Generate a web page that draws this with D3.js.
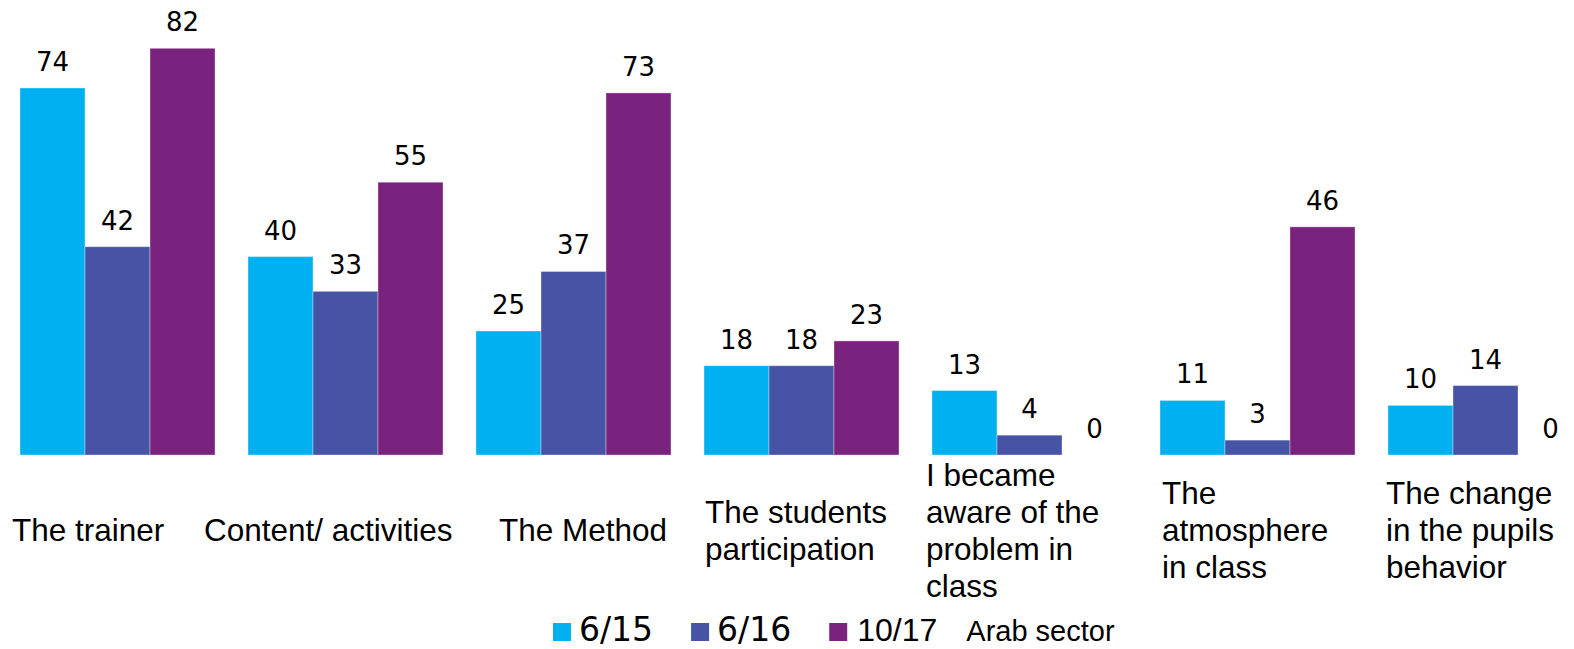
<!DOCTYPE html>
<html>
<head>
<meta charset="utf-8">
<script src="https://cdn.jsdelivr.net/npm/d3@7"></script>
<style>
  html, body { margin: 0; padding: 0; background: #fff; }
  svg { display: block; }
</style>
</head>
<body>
<svg id="chart" width="1574" height="649"></svg>
<script>
// ---- data ----
const categories = [
  ["The trainer"],
  ["Content/ activities"],
  ["The Method"],
  ["The students", "participation"],
  ["I became", "aware of the", "problem in", "class"],
  ["The", "atmosphere", "in class"],
  ["The change", "in the pupils", "behavior"]
];
const seriesNames = ["6/15", "6/16", "10/17"];
const s615  = [74, 40, 25, 18, 13, 11, 10];
const s616  = [42, 33, 37, 18, 4, 3, 14];
const s1017 = [82, 55, 73, 23, 0, 46, 0];
const legendNote = "Arab sector";

// ---- layout / style ----
const colors = ["#00B0F0", "#4753A5", "#79227E"];
const labelDx = [-8, -44, 23, 1, -6, 2, -2]; // left offset of category text from band start
const series = [s615, s616, s1017];

const svg = d3.select("#chart");

const x0 = d3.scaleBand()
  .domain(d3.range(categories.length))
  .range([20, 1583])
  .paddingInner(0.1447)
  .paddingOuter(0);

const x1 = d3.scaleBand()
  .domain(d3.range(series.length))
  .range([0, x0.bandwidth()])
  .padding(0);

const y = d3.scaleLinear().domain([0, 82]).range([455, 48.3]);

const groups = svg.selectAll("g.grp")
  .data(categories.map((c, i) => i))
  .join("g")
  .attr("class", "grp")
  .attr("transform", i => `translate(${x0(i)},0)`);

groups.selectAll("rect")
  .data(i => series.map((s, k) => ({k, v: s[i]})))
  .join("rect")
  .attr("x", d => x1(d.k))
  .attr("width", x1.bandwidth())
  .attr("y", d => y(d.v))
  .attr("height", d => y(0) - y(d.v))
  .attr("fill", d => colors[d.k])
  .attr("stroke", "rgba(255,255,255,0.35)")
  .attr("stroke-width", 1);

groups.selectAll("text.val")
  .data(i => series.map((s, k) => ({k, v: s[i]})))
  .join("text")
  .attr("class", "val")
  .attr("x", d => x1(d.k) + x1.bandwidth() / 2)
  .attr("y", d => y(d.v) - 17)
  .attr("text-anchor", "middle")
  .attr("font-family", "DejaVu Sans, Verdana, sans-serif")
  .attr("font-size", 26)
  .attr("fill", "#000")
  .text(d => d.v);

// category labels
const lh = 37, centerY = 541;
categories.forEach((lines, i) => {
  const t = svg.append("text")
    .attr("font-family", "Liberation Sans, Arial, sans-serif")
    .attr("font-size", 31.5)
    .attr("fill", "#000");
  const y0 = centerY - (lines.length - 1) * lh / 2;
  lines.forEach((ln, j) => {
    t.append("tspan")
      .attr("x", x0(i) + labelDx[i])
      .attr("y", y0 + j * lh)
      .text(ln);
  });
});

// legend
const leg = svg.append("g");
let lx = 553;
const legFonts = ["DejaVu Sans, Verdana, sans-serif", "DejaVu Sans, Verdana, sans-serif", "Liberation Sans, Arial, sans-serif"];
const legSizes = [33, 33, 32];
const legTextGap = [26, 26, 28];
const legItemGap = [38, 38, 29];
seriesNames.forEach((n, k) => {
  leg.append("rect")
    .attr("x", lx).attr("y", 623)
    .attr("width", 18).attr("height", 18)
    .attr("fill", colors[k]);
  const t = leg.append("text")
    .attr("x", lx + legTextGap[k]).attr("y", 641)
    .attr("font-family", legFonts[k])
    .attr("font-size", legSizes[k])
    .attr("fill", "#000")
    .text(n);
  lx = lx + legTextGap[k] + t.node().getComputedTextLength() + legItemGap[k];
});
leg.append("text")
  .attr("x", lx).attr("y", 641)
  .attr("font-family", "Liberation Sans, Arial, sans-serif")
  .attr("font-size", 29)
  .attr("fill", "#000")
  .text(legendNote);
</script>
</body>
</html>
